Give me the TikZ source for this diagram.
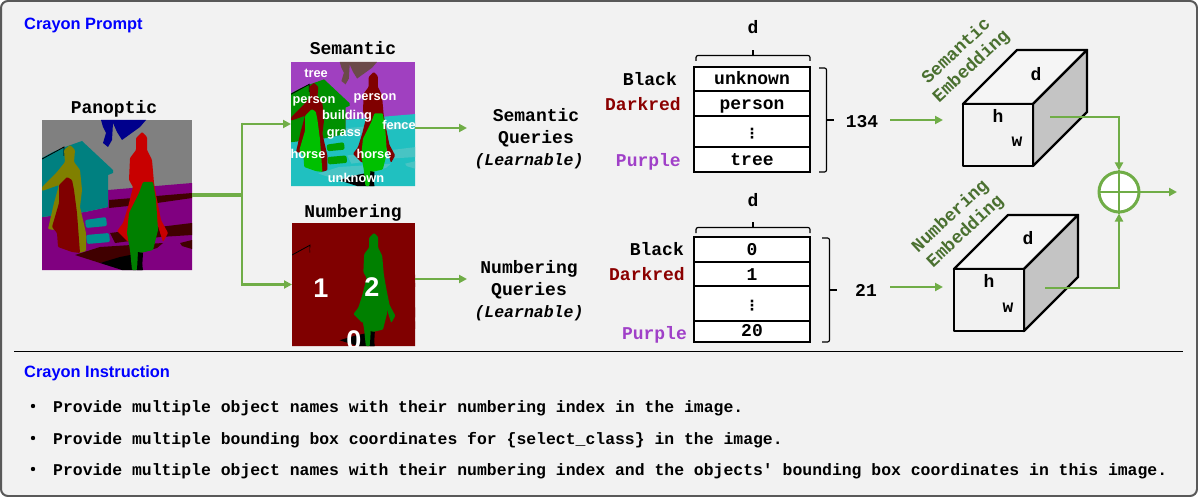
\documentclass[tikz,border=0pt]{standalone}
\usepackage{fontspec}
\setmainfont{Liberation Sans}
\newfontfamily\cmono{Liberation Mono}
\newfontfamily\dejavu{DejaVu Sans}
\usetikzlibrary{arrows.meta}
\definecolor{conn}{HTML}{70AD47}
\definecolor{embtxt}{HTML}{4A7030}
\definecolor{dkred}{HTML}{8B0000}
\definecolor{purp}{HTML}{A040C8}
\newcommand{\scene}[3]{%
 \begin{scope}[shift={(#1,#2)},scale=#3]
  \clip (0,0) rectangle (150,150);
  \fill[skyc] (0,0) rectangle (150,150);
  \fill[treec] (59,0)--(104,0)--(98,7)--(80,20)--(75,12)--(71,3)--(70,20)--(66,27)--(61,23)--(64,13)--(61,7)--cycle;
  \fill[groundc] (150,63)--(66,70)--(66,87)--(43,92)--(0,97)--(0,150)--(150,150)--cycle;
  \fill[housec] (0,38)--(11,32)--(23,27)--(40,21)--(71,50)--(71,53)--(66,55)--(66,87)--(43,92)--(0,97)--cycle;
  \fill[stripec] (67,80)--(150,73)--(150,78)--(115,83)--(67,88)--cycle;
  \fill[stripec] (68,113)--(150,103)--(150,115)--(118,117)--(73,123)--cycle;
  \fill[stripec] (138,123)--(150,120)--(150,129)--(140,126)--cycle;
  \fill[stripec] (33,135)--(58,127)--(121,123)--(115,128)--(85,137)--(58,143)--cycle;
  \fill[benchc,rounded corners=2] (43,100)--(64,97)--(65,106)--(44,108)--cycle;
  \fill[benchc,rounded corners=2] (44,115)--(67,113)--(68,122)--(45,124)--cycle;
  \fill[black] (58,143)--(78,137)--(98,133)--(101,150)--(80,150)--cycle;
  \draw[black,line width=0.8pt] (0,39)--(11,33)--(22,27)--(22,36);
  \fill[olivec,rounded corners=1] (0,67)--(15,52)--(23,42)--(22,30)--(28,25)--(33,30)--(32,42)--(38,50)--(40,70)--(38,87)--(44,113)--(44,131)--(37,133)--(30,103)--(18,83)--(12,110)--(6,109)--(12,83)--(17,65)--(0,71)--cycle;
  \fill[dredc,rounded corners=1] (25,57)--(30,60)--(32,70)--(35,93)--(38,133)--(30,132)--(16,127)--(15,113)--(10,107)--(17,83)--(17,65)--cycle;
  \fill[redc,rounded corners=1] (100,12)--(105,17)--(105,30)--(110,40)--(112,63)--(115,80)--(119,100)--(126,113)--(121,122)--(115,103)--(86,122)--(75,111)--(81,103)--(86,87)--(91,67)--(87,60)--(88,38)--(94,30)--(94,18)--cycle;
  \fill[greenc,rounded corners=1] (101,62)--(111,62)--(114,80)--(116,110)--(111,130)--(98,133)--(95,150)--(90,150)--(88,130)--(85,113)--(87,93)--(97,73)--cycle;
  \fill[black] (96,132)--(101,133)--(100,150)--(95,150)--cycle;
 \end{scope}}
\tikzset{
 skyc/.style={fill=skyx},treec/.style={fill=treex},groundc/.style={fill=groundx},housec/.style={fill=housex},
 stripec/.style={fill=stripex},benchc/.style={fill=benchx},olivec/.style={fill=olivex},dredc/.style={fill=dredx},
 redc/.style={fill=redx},greenc/.style={fill=greenx},
 mono/.style={font=\cmono\bfseries\fontsize{18}{20}\selectfont,inner sep=0pt,text height=14pt,text depth=2pt},
 instr/.style={font=\cmono\bfseries\fontsize{16.43}{20}\selectfont,inner sep=0pt,anchor=west,text height=12pt,text depth=3pt},
 head/.style={font=\bfseries\fontsize{16.4}{18}\selectfont,text=blue,inner sep=0pt,anchor=west,text height=14pt,text depth=3pt},
 seglab/.style={font=\bfseries\fontsize{12.8}{14}\selectfont,text=white,inner sep=0pt},
 numlab/.style={font=\bfseries\fontsize{27}{28}\selectfont,text=white,inner sep=0pt},
 imgbox/.style={inner sep=0pt,outer sep=0pt},
 tabrow/.style={mono,draw=black,line width=2pt,fill=white,minimum width=116pt,outer sep=0pt},
 colr/.style={mono,anchor=east},
 brace/.style={draw=black,line width=1.2pt,rounded corners=2pt},
 conline/.style={draw=conn,line width=2.6pt},
 conarrow/.style={conline,-{Triangle[length=8pt,width=8pt]}},
 cubeedge/.style={draw=black,line width=2.4pt,line join=round},
 emb/.style={mono,text=embtxt,rotate=43},
}
\newcommand{\vdotsglyph}{\raisebox{-1pt}{\dejavu\bfseries\fontsize{14}{14}\selectfont\char"22EE}}
\begin{document}
\begin{tikzpicture}[x=1pt,y=-1pt]
\useasboundingbox (0,0) rectangle (1198,497);
\draw[fill=white,draw=white] (0,0) rectangle (1198,497);
\draw[fill=black!5,draw=black!65,line width=2pt,rounded corners=7pt] (1,1) rectangle (1197,496);
\node[head] (prompt) at (24,24) {Crayon Prompt};
\node[head] (instr) at (24,372) {Crayon Instruction};
\node[imgbox,minimum width=1169pt,minimum height=1pt] (sep) at (598.5,351.5) {};
\draw[black,line width=1pt] (sep.west) -- (sep.east);

% panoptic
\node[mono] (panl) at (114,108) {Panoptic};
\node[imgbox,minimum size=150pt] (pan) at (117,195) {};
\begin{scope}
\colorlet{skyx}{black!50}\colorlet{treex}{blue!55!black}\definecolor{groundx}{HTML}{800080}\definecolor{housex}{HTML}{008080}
\definecolor{stripex}{HTML}{400000}\definecolor{benchx}{HTML}{008F8F}\definecolor{olivex}{HTML}{808000}\definecolor{dredx}{HTML}{800000}
\definecolor{redx}{HTML}{C80000}\definecolor{greenx}{HTML}{008000}
\scene{42}{120}{1}
\end{scope}

% semantic
\node[mono] (seml) at (353,49) {Semantic};
\node[imgbox,minimum size=124pt] (sem) at (353,124) {};
\begin{scope}
\definecolor{skyx}{HTML}{A040C0}\definecolor{treex}{HTML}{6B4A4A}\definecolor{groundx}{HTML}{20C0C0}\definecolor{housex}{HTML}{009000}
\definecolor{stripex}{HTML}{48C4C4}\definecolor{benchx}{HTML}{00A000}\definecolor{olivex}{HTML}{800000}\definecolor{dredx}{HTML}{00C000}
\definecolor{redx}{HTML}{800000}\definecolor{greenx}{HTML}{00C000}
\scene{291}{62}{0.8267}
\end{scope}
\node[seglab] (t1) at (316,73) {tree};
\node[seglab] (t2) at (314,101) {person};
\node[seglab] (t3) at (375,98) {person};
\node[seglab] (t4) at (347,116) {building};
\node[seglab] (t5) at (344,134) {grass};
\node[seglab] (t6) at (399,125) {fence};
\node[seglab] (t7) at (308,154) {horse};
\node[seglab] (t8) at (374,154) {horse};
\node[seglab] (t9) at (356,178) {unknown};

% numbering
\node[mono] (numl) at (353,211) {Numbering};
\node[imgbox,minimum width=123pt,minimum height=123pt] (num) at (353.5,284.5) {};
\begin{scope}
\definecolor{skyx}{HTML}{800000}\definecolor{treex}{HTML}{800000}\definecolor{groundx}{HTML}{800000}\definecolor{housex}{HTML}{800000}
\definecolor{stripex}{HTML}{800000}\definecolor{benchx}{HTML}{800000}\definecolor{olivex}{HTML}{800000}\definecolor{dredx}{HTML}{800000}
\definecolor{redx}{HTML}{008000}\definecolor{greenx}{HTML}{008000}
\scene{292}{223}{0.82}
\begin{scope}
\clip (292,223) rectangle (415,346);
\node[numlab] (n0) at (354,340) {0};
\end{scope}
\end{scope}
\node[numlab] (n1) at (321,288) {1};
\node[numlab] (n2) at (372,287) {2};

% input connectors
\coordinate (jn) at (242,195);
\coordinate (jt) at (242,124);
\coordinate (jb) at (242,284.5);
\draw[conn,line width=3.5pt] (pan.east) -- (jn);
\draw[conline] ([yshift=1.3pt]jt) -- ([yshift=-1.3pt]jb);
\draw[conarrow] (jt) -- (sem.west);
\draw[conarrow] (jb) -- (num.west);

% queries
\node[mono] (sq1) at (536,116) {Semantic};
\node[mono] (sq2) at (536,138) {Queries};
\node[mono,font=\cmono\bfseries\itshape\fontsize{16.5}{20}\selectfont] (sq3) at (529,160) {(Learnable)};
\node[mono] (nq1) at (529,267) {Numbering};
\node[mono] (nq2) at (529,289) {Queries};
\node[mono,font=\cmono\bfseries\itshape\fontsize{16.5}{20}\selectfont] (nq3) at (529,311) {(Learnable)};
\coordinate (so) at (415,128); \coordinate (se) at (467,128);
\coordinate (no) at (415,279); \coordinate (ne) at (467,279);
\draw[conarrow] (so) -- (se);
\draw[conarrow] (no) -- (ne);

% table 1
\node[mono] (d1) at (753,28) {d};
\node[tabrow,minimum height=24pt] (r11) at (752,79) {unknown};
\node[tabrow,minimum height=25pt] (r12) at (752,103.5) {person};
\node[tabrow,minimum height=31pt] (r13) at (752,131.5) {\vdotsglyph};
\node[tabrow,minimum height=25pt] (r14) at (752,159.5) {tree};
\node[colr] (c11) at (677,80) {Black};
\node[colr,text=dkred] (c12) at (681,105) {Darkred};
\node[colr,text=purp] (c13) at (681,161) {Purple};
\draw[brace] (696,61) -- (696,55.5) -- (810,55.5) -- (810,61);
\draw[black,line width=1.2pt] (753,55.5) -- (753,50);
\draw[brace] (819,68) -- (826.5,68) -- (826.5,172) -- (819,172);
\coordinate (b1) at (826.5,120);
\draw[black,line width=1.2pt] (b1) -- ++(7,0);
\node[mono] (v1) at (862,122) {134};

% table 2
\node[mono] (d2) at (753,200) {d};
\node[tabrow,minimum height=24.5pt] (r21) at (752,249.7) {0};
\node[tabrow,minimum height=24pt] (r22) at (752,274) {1};
\node[tabrow,minimum height=35pt] (r23) at (752,303.5) {\vdotsglyph};
\node[tabrow,minimum height=21.5pt,text height=12pt,text depth=2pt] (r24) at (752,331.7) {20};
\node[colr] (c21) at (684,249) {Black};
\node[colr,text=dkred] (c22) at (685,274) {Darkred};
\node[colr,text=purp] (c23) at (687,333) {Purple};
\draw[brace] (696,233) -- (696,227.5) -- (810,227.5) -- (810,233);
\draw[black,line width=1.2pt] (753,227.5) -- (753,222);
\draw[brace] (822,238) -- (829.5,238) -- (829.5,342) -- (822,342);
\coordinate (b2) at (829.5,290);
\draw[black,line width=1.2pt] (b2) -- ++(7,0);
\node[mono] (v2) at (866,290) {21};

% cube 1
\draw[cubeedge,fill=black!4] (963,104) -- (1017,50) -- (1087,50) -- (1033,104) -- cycle;
\draw[cubeedge,fill=black!23] (1033,104) -- (1087,50) -- (1087,112) -- (1033,166) -- cycle;
\node[imgbox,cubeedge,fill=black!5,minimum width=70pt,minimum height=62pt] (cu1) at (998,135) {};
\node[mono] (cd1) at (1036,75) {d};
\node[mono] (ch1) at (998,117) {h};
\node[mono] (cw1) at (1017,141) {w};
% cube 2
\draw[cubeedge,fill=black!4] (954,269) -- (1008,215) -- (1078,215) -- (1024,269) -- cycle;
\draw[cubeedge,fill=black!23] (1024,269) -- (1078,215) -- (1078,277) -- (1024,331) -- cycle;
\node[imgbox,cubeedge,fill=black!5,minimum width=70pt,minimum height=62pt] (cu2) at (989,300) {};
\node[mono] (cd2) at (1028,238) {d};
\node[mono] (ch2) at (989,281) {h};
\node[mono] (cw2) at (1008,306) {w};

\node[emb,text height=10pt,text depth=2pt] (e1) at (957,52) {Semantic};
\node[emb,text height=10pt,text depth=2pt] (e2) at (972,67) {Embedding};
\node[emb,text height=10pt,text depth=2pt] (e3) at (951,217) {Numbering};
\node[emb,text height=10pt,text depth=2pt] (e4) at (966,232) {Embedding};

% connectors right
\coordinate (a1) at (890,120); \coordinate (a2) at (943,120);
\coordinate (a3) at (890,287); \coordinate (a4) at (943,287);
\draw[conarrow] (a1) -- (a2);
\draw[conarrow] (a3) -- (a4);
\node[circle,draw=conn,line width=3pt,fill=white,minimum size=40pt,inner sep=0pt] (plus) at (1119,192) {};
\draw[conn,line width=2.4pt] (plus.north) -- (plus.south);
\draw[conn,line width=2.4pt] (plus.west) -- (plus.east);
\coordinate (o1) at (1050,117); \coordinate (o2) at (1045,288); \coordinate (oe) at (1177,192);
\draw[conarrow] (o1) -| (plus.north);
\draw[conarrow] (o2) -| (plus.south);
\draw[conarrow] (plus.east) -- (oe);

% instructions
\node[instr] (i1) at (53,408) {Provide multiple object names with their numbering index in the image.};
\node[instr] (i2) at (53,440) {Provide multiple bounding box coordinates for \{select\_class\} in the image.};
\node[instr] (i3) at (53,471) {Provide multiple object names with their numbering index and the objects' bounding box coordinates in this image.};
\node[circle,fill=black,minimum size=4.4pt,inner sep=0pt] (b-1) at (33,406) {};
\node[circle,fill=black,minimum size=4.4pt,inner sep=0pt] (b-2) at (33,438) {};
\node[circle,fill=black,minimum size=4.4pt,inner sep=0pt] (b-3) at (33,469) {};
\end{tikzpicture}
\end{document}
